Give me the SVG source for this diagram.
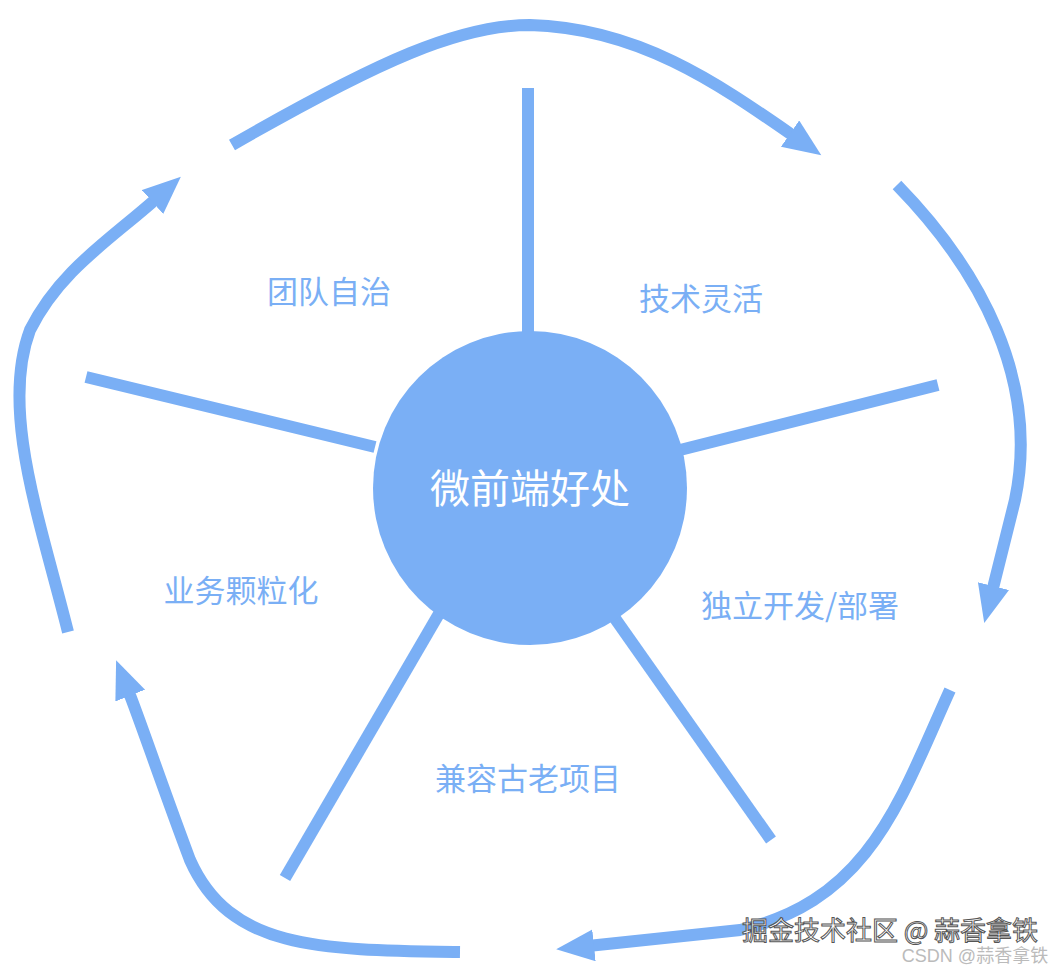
<svg xmlns="http://www.w3.org/2000/svg" width="1058" height="970" viewBox="0 0 1058 970">
<style>
.c{fill:none;stroke:#7aaff5;stroke-width:12}
.s{stroke:#7aaff5;stroke-width:12}
.t{font-family:"Noto Sans CJK SC",sans-serif;font-size:31px;fill:#7aaff5;text-anchor:middle}
</style>
<defs><marker id="a" markerUnits="userSpaceOnUse" markerWidth="40" markerHeight="34" refX="6" refY="16" orient="auto"><path d="M0,0 L38,16 L0,32 z" fill="#7aaff5"/></marker></defs>
<rect width="1058" height="970" fill="#fff"/>
<g id="connectors">
<path class="c" marker-end="url(#a)" d="M232,145 C380,60 460,25 530,25 C640,28 720,85 795,137"/>
<path class="c" marker-end="url(#a)" d="M897,185 C980,270 1040,380 1015,500 L992,592"/>
<path class="c" marker-end="url(#a)" d="M950,690 C900,800 870,900 740,930 L588,946"/>
<path class="c" marker-end="url(#a)" d="M460,952 C320,950 230,950 190,860 C160,780 140,720 128,690"/>
<path class="c" marker-end="url(#a)" d="M68,632 C40,520 0,410 30,330 C60,270 110,240 157,198"/>
<line class="s" x1="528" y1="88" x2="528" y2="335"/>
<line class="s" x1="680" y1="450" x2="938" y2="385"/>
<line class="s" x1="86" y1="377" x2="375" y2="447"/>
<line class="s" x1="440" y1="612" x2="285" y2="878"/>
<line class="s" x1="614" y1="617" x2="771" y2="840"/>
</g>
<g id="center"><circle cx="530" cy="488" r="157" fill="#7aaff5"/><text x="530" y="503" font-family="Noto Sans CJK SC,sans-serif" font-size="40" fill="#fff" text-anchor="middle">微前端好处</text></g>
<g id="n1"><text class="t" x="329" y="303">团队自治</text></g>
<g id="n2"><text class="t" x="701" y="310">技术灵活</text></g>
<g id="n3"><text class="t" x="800" y="617">独立开发/部署</text></g>
<g id="n4"><text class="t" x="528" y="790">兼容古老项目</text></g>
<g id="n5"><text class="t" x="241" y="602">业务颗粒化</text></g>
<text x="890" y="940" font-family="Noto Sans CJK SC,sans-serif" font-size="26" fill="#fff" stroke="#555" stroke-width="1" text-anchor="middle">掘金技术社区 @ 蒜香拿铁</text>
<text x="975" y="962" font-family="Liberation Sans,Noto Sans CJK SC,sans-serif" font-size="18" fill="#bbb" text-anchor="middle">CSDN @蒜香拿铁</text>
</svg>
